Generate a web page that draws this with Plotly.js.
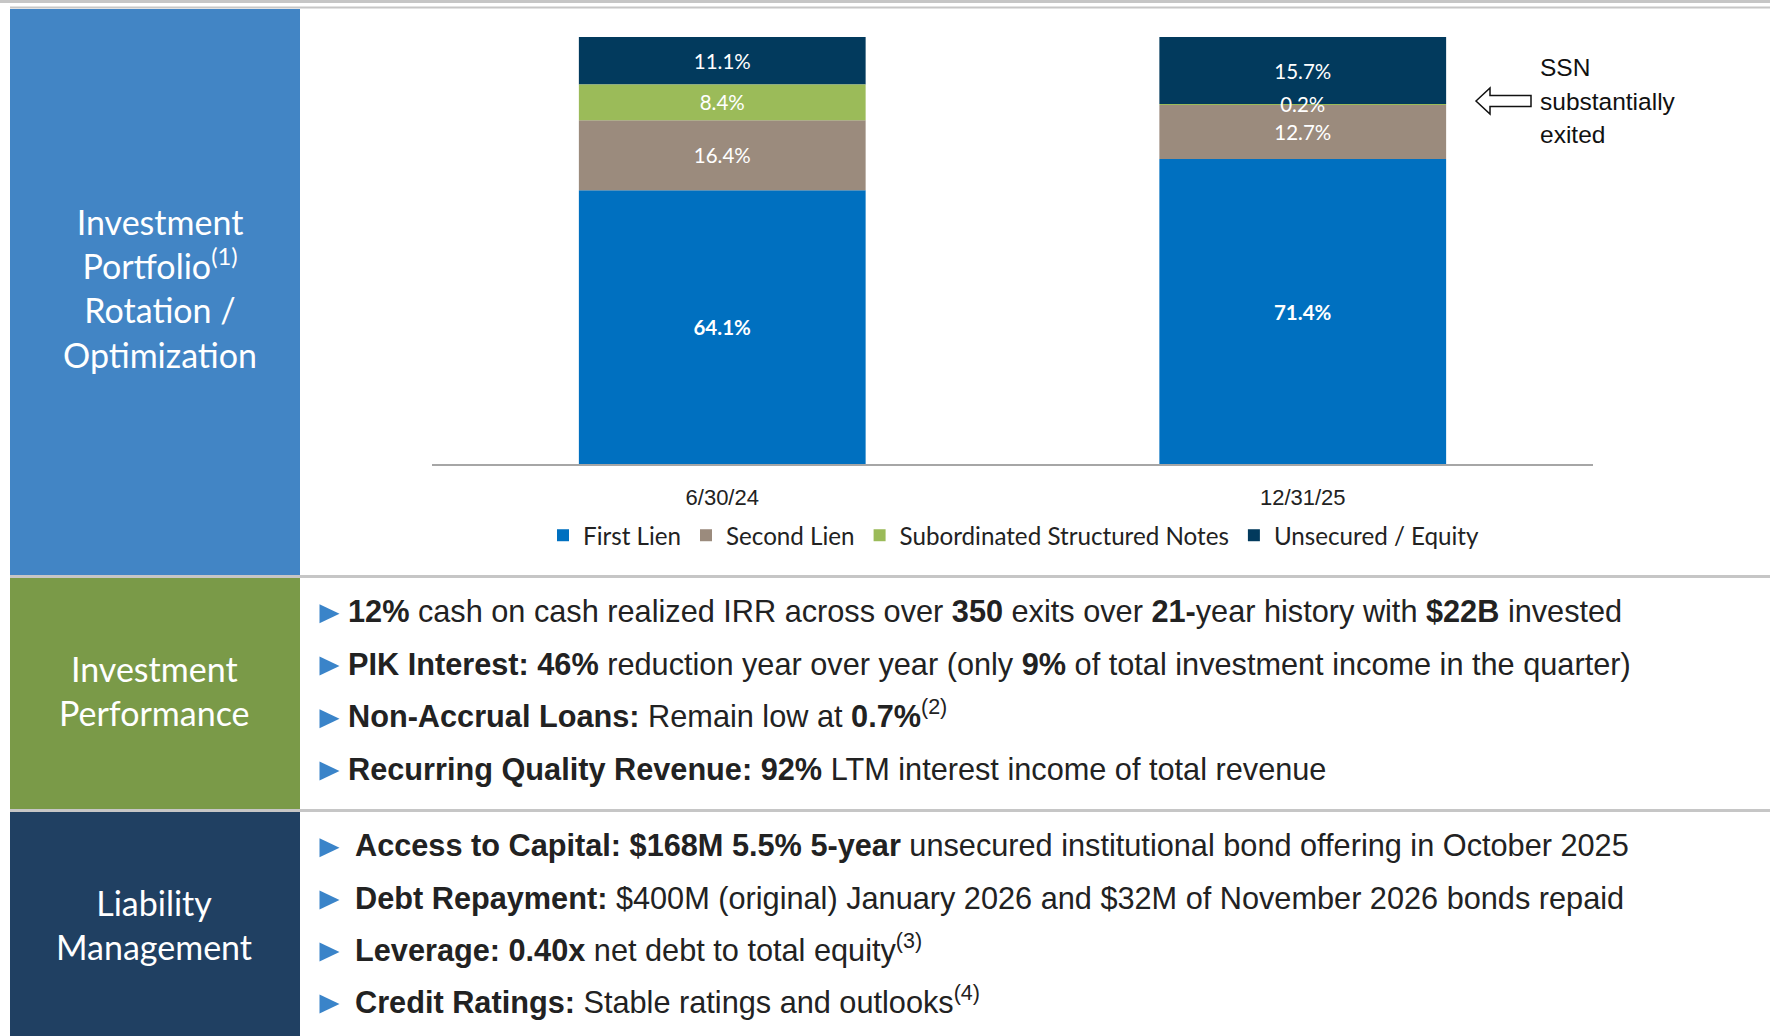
<!DOCTYPE html>
<html>
<head>
<meta charset="utf-8">
<script src="https://cdn.plot.ly/plotly-3.0.1.min.js"></script>
<style>
  html, body { margin: 0; padding: 0; background: #fff; }
  #chart { width: 1770px; height: 1036px; }
</style>
</head>
<body>
<div id="chart"></div>
<script>
/**
 * Portfolio mix (% of investments at fair value)
 */
const dates = ['6/30/24', '12/31/25'];
const firstLien = [64.1, 71.4];
const secondLien = [16.4, 12.7];
const ssn = [8.4, 0.2];          // Subordinated Structured Notes
const unsecured = [11.1, 15.7];  // Unsecured / Equity

const seriesNames = ['First Lien', 'Second Lien', 'Subordinated Structured Notes', 'Unsecured / Equity'];

/**
 * Colors
 */
const blue = '#0070c0';
const tan = '#9b8b7d';
const lime = '#9bbb59';
const navy = '#023a5d';
const panelBlue = '#4285c5';
const panelGreen = '#7a9a48';
const panelNavy = '#204062';
const sepColor = '#c6c6c6';
const textColor = '#222222';
const bulletColor = '#3a84c9';

/**
 * Row texts
 */
const panelTitles = [
    'Investment<br>Portfolio<sup>(1)</sup><br>Rotation /<br>Optimization',
    'Investment<br>Performance',
    'Liability<br>Management'
];
const performanceLines = [
    '<b>12%</b> cash on cash realized IRR across over <b>350</b> exits over <b>21-</b>year history with <b>$22B</b> invested',
    '<b>PIK Interest: 46%</b> reduction year over year (only <b>9%</b> of total investment income in the quarter)',
    '<b>Non-Accrual Loans:</b> Remain low at <b>0.7%</b><sup>(2)</sup>',
    '<b>Recurring Quality Revenue: 92%</b> LTM interest income of total revenue'
];
const liabilityLines = [
    '<b>Access to Capital: $168M 5.5% 5-year</b> unsecured institutional bond offering in October 2025',
    '<b>Debt Repayment:</b> $400M (original) January 2026 and $32M of November 2026 bonds repaid',
    '<b>Leverage: 0.40x</b> net debt to total equity<sup>(3)</sup>',
    '<b>Credit Ratings:</b> Stable ratings and outlooks<sup>(4)</sup>'
];
const ssnNote = ['SSN', 'substantially', 'exited'];

// plot area in page pixels
const L = 432, R = 1593, T = 37, B = 464;
const px = x => (x - L) / (R - L);
const py = y => (B - y) / (B - T);

// running base for the stack (drawn as overlay so the SSN label sits on top)
function addUp(a, b) { return a.map((v, i) => v + b[i]); }
const base2 = firstLien;
const base3 = addUp(firstLien, secondLien);
const base4 = addUp(base3, ssn);

const labelFont = { family: 'Lato, sans-serif', size: 20.5, color: '#ffffff' };

function segment(name, y, base, color, rank, bold) {
    return {
        type: 'bar',
        name: name,
        x: dates,
        y: y,
        base: base,
        marker: { color: color },
        texttemplate: bold ? '<b>%{y:.1f}%</b>' : '%{y:.1f}%',
        textposition: 'inside',
        insidetextanchor: 'middle',
        constraintext: 'none',
        textangle: 0,
        insidetextfont: labelFont,
        legendrank: rank,
        hoverinfo: 'skip'
    };
}

const data = [
    segment(seriesNames[0], firstLien, 0, blue, 1, true),
    segment(seriesNames[1], secondLien, base2, tan, 2, false),
    segment(seriesNames[3], unsecured, base4, navy, 4, false),
    segment(seriesNames[2], ssn, base3, lime, 3, false)
];

// shapes: panels, separators, arrow, bullets
const shapes = [];
function rect(x0, y0, x1, y1, color) {
    shapes.push({ type: 'rect', xref: 'paper', yref: 'paper', layer: 'below',
        x0: px(x0), x1: px(x1), y0: py(y1), y1: py(y0),
        fillcolor: color, line: { width: 0 } });
}
function hline(y, x0, x1, w) {
    shapes.push({ type: 'line', xref: 'paper', yref: 'paper', layer: 'below',
        x0: px(x0), x1: px(x1), y0: py(y), y1: py(y),
        line: { color: sepColor, width: w } });
}
function poly(pts, fill, lineColor, lineWidth) {
    const d = pts.map((p, i) => (i ? 'L' : 'M') + px(p[0]) + ',' + py(p[1])).join(' ') + ' Z';
    shapes.push({ type: 'path', xref: 'paper', yref: 'paper', path: d,
        fillcolor: fill, line: { color: lineColor, width: lineWidth } });
}

hline(1.5, 0, 1770, 3);
hline(7.5, 10, 1770, 2);
rect(10, 9, 300, 575, panelBlue);
hline(576.5, 10, 1770, 3);
rect(10, 578, 300, 809, panelGreen);
hline(810.5, 10, 1770, 3);
rect(10, 812, 300, 1036, panelNavy);

// outline arrow pointing at the SSN sliver
poly([[1476, 101], [1490, 88], [1490, 95.5], [1531, 95.5], [1531, 106.5], [1490, 106.5], [1490, 114]],
    '#ffffff', '#111111', 1.5);

const annotations = [];
function note(text, x, y, opts) {
    annotations.push(Object.assign({
        text: text, xref: 'paper', yref: 'paper', x: px(x), y: py(y),
        showarrow: false, borderpad: 0, borderwidth: 0
    }, opts));
}

// left panel titles
const titleFont = { family: 'Lato, sans-serif', size: 34, color: '#ffffff' };
note(panelTitles[0], 160, 288, { xanchor: 'center', yanchor: 'middle', align: 'center', font: titleFont });
note(panelTitles[1], 154, 690, { xanchor: 'center', yanchor: 'middle', align: 'center', font: titleFont });
note(panelTitles[2], 154, 924, { xanchor: 'center', yanchor: 'middle', align: 'center', font: titleFont });

// bullet rows
const bulletSize = 30.7;
const bulletFont = { family: 'Liberation Sans, Arial, sans-serif', size: bulletSize, color: textColor };
const perfBaselines = [622.7, 675, 727.7, 780];
const liabBaselines = [856.7, 909, 961, 1013];
function bulletRow(text, baseline, textX) {
    poly([[319.5, baseline - 18.5], [339.5, baseline - 9], [319.5, baseline + 0.5]], bulletColor, bulletColor, 0);
    note(text, textX, baseline + 0.212 * bulletSize, { xanchor: 'left', yanchor: 'bottom', align: 'left', font: bulletFont });
}
performanceLines.forEach((t, i) => bulletRow(t, perfBaselines[i], 348));
liabilityLines.forEach((t, i) => bulletRow(t, liabBaselines[i], 355));

// SSN side note
const ssnSize = 24.5;
const ssnFont = { family: 'Liberation Sans, Arial, sans-serif', size: ssnSize, color: '#111111' };
const ssnBaselines = [76, 110, 143];
ssnNote.forEach((t, i) => note(t, 1540, ssnBaselines[i] + 0.212 * ssnSize, { xanchor: 'left', yanchor: 'bottom', align: 'left', font: ssnFont }));

const layout = {
    width: 1770,
    height: 1036,
    margin: { l: L, r: 1770 - R, t: T, b: 1036 - B, pad: 0 },
    paper_bgcolor: '#ffffff',
    plot_bgcolor: '#ffffff',
    font: { family: 'Liberation Sans, Arial, sans-serif', color: textColor },
    barmode: 'overlay',
    bargap: 0.506,
    showlegend: true,
    legend: {
        orientation: 'h',
        traceorder: 'normal',
        x: px(543),
        xanchor: 'left',
        y: py(535.5),
        yanchor: 'middle',
        bgcolor: 'rgba(0,0,0,0)',
        font: { family: 'Lato, sans-serif', size: 24.2, color: textColor }
    },
    xaxis: {
        type: 'category',
        range: [-0.5, 1.5],
        showline: true,
        linecolor: '#a6a6a6',
        linewidth: 2,
        ticks: '',
        showgrid: false,
        zeroline: false,
        ticklabelstandoff: 13,
        tickfont: { family: 'Liberation Sans, Arial, sans-serif', size: 22, color: textColor },
        fixedrange: true
    },
    yaxis: {
        range: [0, 100],
        visible: false,
        fixedrange: true
    },
    shapes: shapes,
    annotations: annotations
};

Plotly.newPlot('chart', data, layout, { displayModeBar: false, staticPlot: true });
</script>
</body>
</html>
